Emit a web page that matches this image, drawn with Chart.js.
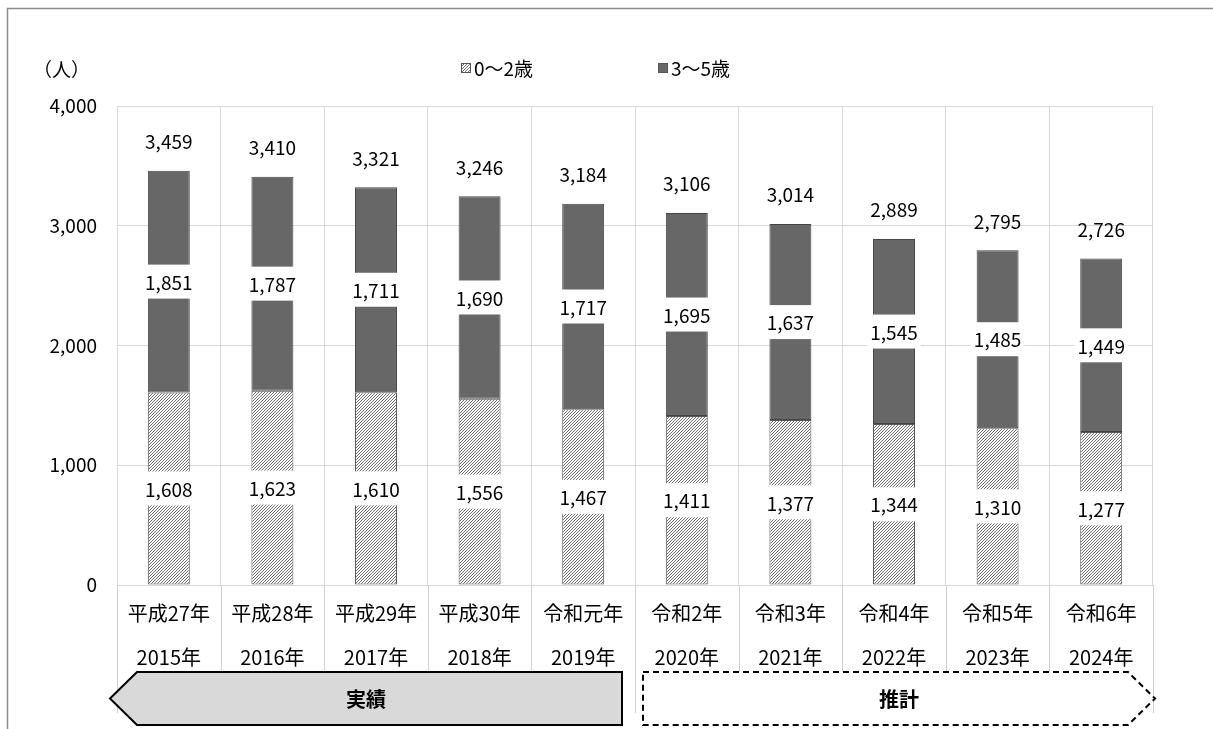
<!DOCTYPE html>
<html lang="ja">
<head>
<meta charset="utf-8">
<title>児童数の推移</title>
<script src="https://cdn.jsdelivr.net/npm/chart.js@4/dist/chart.umd.min.js"></script>
<style>
  html, body { margin: 0; padding: 0; background: #fff; }
  #wrap { width: 1213px; height: 729px; position: relative; }
</style>
</head>
<body>
<div id="wrap"><canvas id="chartJidou"></canvas></div>
<script>
(function () {
  // 元号と西暦（2段のラベル）
  const eraLabels = ['平成27年', '平成28年', '平成29年', '平成30年', '令和元年', '令和2年', '令和3年', '令和4年', '令和5年', '令和6年'];
  const yearLabels = ['2015年', '2016年', '2017年', '2018年', '2019年', '2020年', '2021年', '2022年', '2023年', '2024年'];

  const age0to2 = [1608, 1623, 1610, 1556, 1467, 1411, 1377, 1344, 1310, 1277];
  const age3to5 = [1851, 1787, 1711, 1690, 1717, 1695, 1637, 1545, 1485, 1449];

  const yTicks = [0, 1000, 2000, 3000, 4000];
  const seriesNames = ['0～2歳', '3～5歳'];
  const periodNames = ['実績', '推計'];
  const actualCount = 5; // 実績は最初の5年

  const FONT = "'Noto Sans CJK JP', 'Noto Sans', sans-serif";

  function formatNum(v) {
    return Number(v).toLocaleString('ja-JP');
  }

  // 細かい斜線（////）
  function makeHatch() {
    const size = 3;
    const c = document.createElement('canvas');
    c.width = size;
    c.height = size;
    const g = c.getContext('2d');
    g.fillStyle = '#ffffff';
    g.fillRect(0, 0, size, size);
    g.fillStyle = '#6e6e6e';
    for (let y = 0; y < size; y++) {
      for (let x = 0; x < size; x++) {
        if ((x + y) % size === size - 1) g.fillRect(x, y, 1, 1);
      }
    }
    return g.createPattern(c, 'repeat');
  }

  const hatch = makeHatch();
  const darkFill = '#676767';

  // 値ラベル・凡例・枠・矢印
  const decorPlugin = {
    id: 'decor',
    beforeDraw(chart) {
      const ctx = chart.ctx;
      ctx.save();
      ctx.fillStyle = '#fff';
      ctx.fillRect(0, 0, chart.width, chart.height);
      ctx.restore();
    },
    afterDatasetsDraw(chart) {
      const ctx = chart.ctx;
      ctx.save();
      ctx.font = '19px ' + FONT;
      ctx.textAlign = 'center';
      ctx.textBaseline = 'middle';

      chart.data.datasets.forEach((ds, di) => {
        const meta = chart.getDatasetMeta(di);
        meta.data.forEach((bar, i) => {
          const txt = formatNum(ds.data[i]);
          const cy = (bar.y + bar.base) / 2;
          const w = ctx.measureText(txt).width + 6;
          ctx.fillStyle = '#fff';
          ctx.fillRect(bar.x - w / 2, cy - 17, w, 34);
          ctx.fillStyle = '#000';
          ctx.fillText(txt, bar.x, cy + 1);
        });
      });

      // 合計
      const topMeta = chart.getDatasetMeta(chart.data.datasets.length - 1);
      topMeta.data.forEach((bar, i) => {
        const total = age0to2[i] + age3to5[i];
        ctx.fillStyle = '#000';
        ctx.fillText(formatNum(total), bar.x, bar.y - 29);
      });
      ctx.restore();
    },
    afterDraw(chart) {
      const ctx = chart.ctx;
      const area = chart.chartArea;
      const xs = chart.scales.x;
      const n = eraLabels.length;
      const catW = (xs.right - xs.left) / n;

      ctx.save();

      // 外枠
      ctx.strokeStyle = '#8c8c8c';
      ctx.lineWidth = 1.5;
      ctx.beginPath();
      ctx.moveTo(7.5, chart.height);
      ctx.lineTo(7.5, 8.5);
      ctx.lineTo(chart.width, 8.5);
      ctx.stroke();

      // 軸ラベル下の区切り線
      ctx.strokeStyle = '#d0d0d0';
      ctx.lineWidth = 1;
      for (let i = 0; i <= n; i++) {
        const x = Math.round(xs.left + i * catW) + 0.5;
        ctx.beginPath();
        ctx.moveTo(x, area.bottom);
        ctx.lineTo(x, 713);
        ctx.stroke();
      }

      // 単位
      ctx.fillStyle = '#000';
      ctx.font = '19px ' + FONT;
      ctx.textAlign = 'left';
      ctx.textBaseline = 'middle';
      ctx.fillText('（人）', 33, 70);

      // 凡例
      const legendX = [461, 658];
      const fills = [hatch, darkFill];
      legendX.forEach((lx, k) => {
        ctx.fillStyle = fills[k];
        ctx.fillRect(lx, 63, 10, 10);
        ctx.strokeStyle = '#555';
        ctx.lineWidth = 1;
        ctx.strokeRect(lx + 0.5, 63.5, 9, 9);
        ctx.fillStyle = '#000';
        ctx.fillText(seriesNames[k], lx + 13, 69);
      });

      // 実績・推計の矢印
      const split = xs.left + actualCount * catW;
      const top = 672, bot = 725, mid = (top + bot) / 2, tip = 27;

      const aL = area.left - 7, aR = split - 13;
      ctx.beginPath();
      ctx.moveTo(aL, mid);
      ctx.lineTo(aL + tip, top);
      ctx.lineTo(aR, top);
      ctx.lineTo(aR, bot);
      ctx.lineTo(aL + tip, bot);
      ctx.closePath();
      ctx.fillStyle = '#d9d9d9';
      ctx.fill();
      ctx.strokeStyle = '#000';
      ctx.lineWidth = 2;
      ctx.stroke();

      const bL = split + 8, bR = area.right + 2;
      ctx.beginPath();
      ctx.moveTo(bL, top);
      ctx.lineTo(bR - tip, top);
      ctx.lineTo(bR, mid);
      ctx.lineTo(bR - tip, bot);
      ctx.lineTo(bL, bot);
      ctx.closePath();
      ctx.fillStyle = '#fff';
      ctx.fill();
      ctx.setLineDash([6, 4]);
      ctx.stroke();
      ctx.setLineDash([]);

      ctx.fillStyle = '#000';
      ctx.font = 'bold 20px ' + FONT;
      ctx.textAlign = 'center';
      ctx.fillText(periodNames[0], (aL + aR) / 2, mid + 1);
      ctx.fillText(periodNames[1], (bL + bR) / 2, mid + 1);

      ctx.restore();
    }
  };

  const ctx = document.getElementById('chartJidou');

  new Chart(ctx, {
    type: 'bar',
    data: {
      labels: eraLabels.map((e, i) => [e, yearLabels[i]]),
      datasets: [
        {
          label: seriesNames[0],
          data: age0to2,
          backgroundColor: hatch,
          borderColor: '#595959',
          borderWidth: 1,
          borderSkipped: false,
          barPercentage: 0.405,
          categoryPercentage: 1
        },
        {
          label: seriesNames[1],
          data: age3to5,
          backgroundColor: darkFill,
          borderColor: '#444444',
          borderWidth: 1,
          borderSkipped: false,
          barPercentage: 0.405,
          categoryPercentage: 1
        }
      ]
    },
    options: {
      responsive: true,
      maintainAspectRatio: false,
      animation: false,
      devicePixelRatio: 1,
      layout: { padding: { top: 106, right: 60, left: 0, bottom: 0 } },
      plugins: {
        legend: { display: false },
        tooltip: { enabled: false }
      },
      scales: {
        x: {
          stacked: true,
          afterFit: s => { s.height = 144; },
          grid: { color: '#d9d9d9', lineWidth: 1, drawTicks: false, offset: true },
          border: { color: '#d9d9d9' },
          ticks: {
            autoSkip: false,
            maxRotation: 0,
            padding: 6,
            color: '#000',
            font: { family: FONT, size: 20, lineHeight: 2.2 }
          }
        },
        y: {
          stacked: true,
          min: yTicks[0],
          max: yTicks[yTicks.length - 1],
          afterFit: s => { s.width = 117; },
          afterBuildTicks: s => { s.ticks = yTicks.map(v => ({ value: v })); },
          grid: { color: '#d9d9d9', lineWidth: 1, drawTicks: false },
          border: { display: false },
          ticks: {
            padding: 20,
            color: '#000',
            font: { family: FONT, size: 19 },
            callback: v => formatNum(v)
          }
        }
      }
    },
    plugins: [decorPlugin]
  });
})();
</script>
</body>
</html>
